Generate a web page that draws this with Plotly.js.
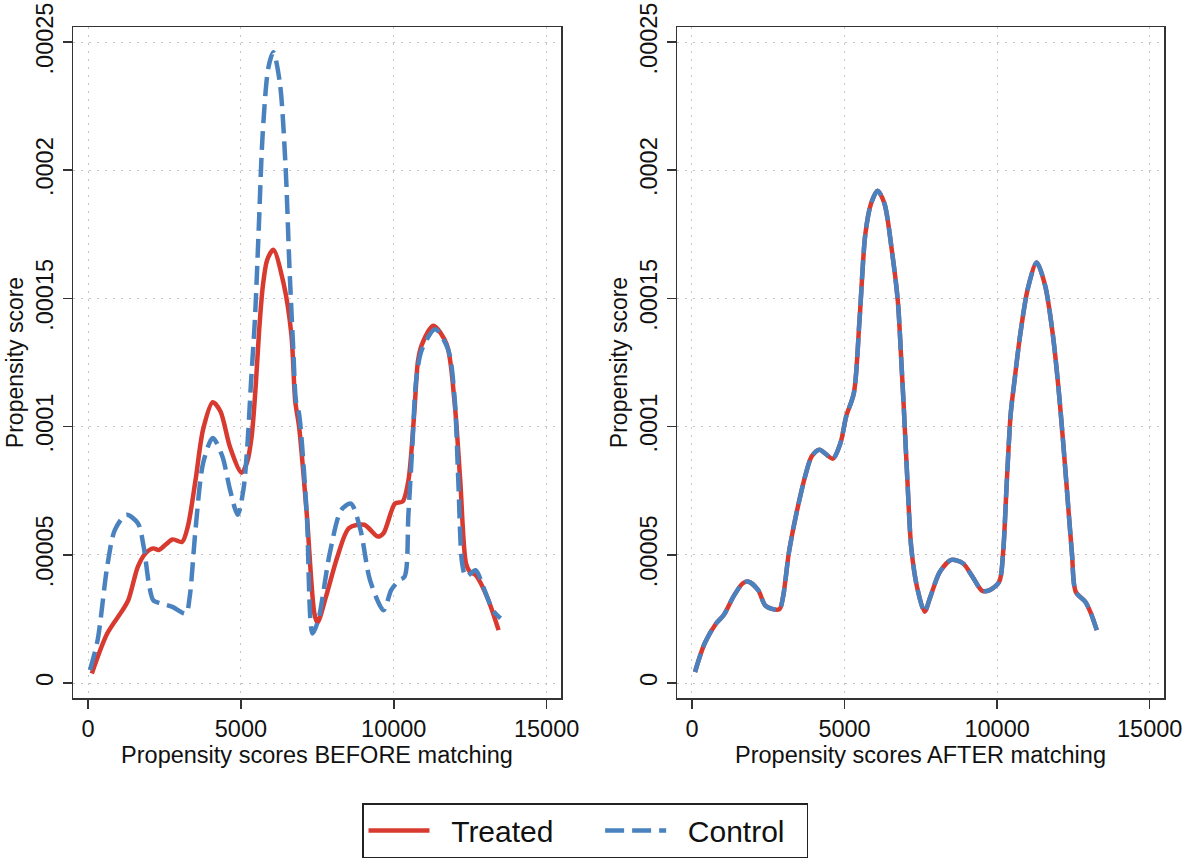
<!DOCTYPE html>
<html>
<head>
<meta charset="utf-8">
<script src="https://cdn.plot.ly/plotly-3.0.1.min.js"></script>
<style>html,body{margin:0;padding:0;background:#fff;}#chart{width:1192px;height:860px;}</style>
</head>
<body>
<div id="chart"></div>
<script>
// Values in units of 1e-5 (density)
const beforeTreatedX = [125, 628, 1130, 1318, 1632, 1883, 2134, 2322, 2762, 3075, 3264, 3515, 3766, 4080, 4330, 4644, 5021, 5200, 5350, 5480, 5600, 5720, 5860, 6062, 6400, 6651, 6777, 6903, 7154, 7405, 7505, 7782, 8159, 8535, 9037, 9477, 9665, 10041, 10292, 10480, 10669, 10794, 10919, 11296, 11734, 11985, 12174, 12362, 12488, 12676, 13052, 13429];
const beforeTreatedY = [0.37, 1.93, 2.84, 3.23, 4.54, 5.06, 5.25, 5.19, 5.6, 5.5, 6.1, 7.9, 9.9, 10.95, 10.6, 9.2, 8.2, 8.6, 9.6, 11.5, 13.8, 15.5, 16.5, 16.9, 15.56, 13.6, 11.0, 10.0, 6.6, 2.7, 2.35, 3.36, 4.93, 6.04, 6.17, 5.71, 5.84, 7.0, 7.08, 7.9, 10.5, 12.57, 13.2, 13.93, 13.2, 11.0, 7.9, 4.67, 4.34, 4.21, 3.36, 2.06];

const beforeControlX = [63, 314, 628, 879, 1255, 1632, 1820, 2008, 2134, 2385, 2761, 3201, 3326, 3515, 3766, 4080, 4393, 4644, 4895, 5083, 5209, 5335, 5460, 5587, 5712, 5899, 6062, 6275, 6463, 6589, 6714, 6802, 6903, 7154, 7342, 7530, 7907, 8284, 8598, 8912, 9226, 9665, 9916, 10167, 10355, 10480, 10606, 10731, 10919, 11358, 11780, 11985, 12111, 12237, 12362, 12676, 12927, 13241, 13492];
const beforeControlY = [0.5, 1.67, 4.54, 5.97, 6.56, 6.23, 5.32, 3.75, 3.23, 3.1, 2.97, 2.71, 3.36, 5.97, 8.58, 9.56, 8.84, 7.54, 6.56, 7.54, 9.2, 11.8, 14.2, 17.8, 21.4, 24.0, 24.6, 23.4, 20.1, 16.2, 13.0, 11.0, 10.5, 6.6, 1.93, 2.45, 5.06, 6.75, 7.0, 5.97, 4.0, 2.84, 3.62, 4.0, 4.15, 6.6, 9.2, 11.8, 13.0, 13.8, 13.0, 11.2, 7.9, 4.67, 4.15, 4.4, 3.75, 2.84, 2.52];

const afterX = [100, 414, 790, 1041, 1354, 1668, 1856, 2170, 2420, 2859, 2985, 3173, 3424, 3737, 3925, 4176, 4615, 4866, 5054, 5304, 5493, 5681, 5869, 6082, 6307, 6558, 6746, 6872, 6935, 7060, 7185, 7374, 7624, 7812, 8126, 8502, 8878, 9192, 9505, 9756, 10070, 10195, 10320, 10446, 10571, 10759, 11010, 11298, 11574, 11825, 12051, 12264, 12452, 12577, 12890, 13079, 13267];
const afterTreatedY = [0.43, 1.54, 2.32, 2.65, 3.36, 3.89, 3.95, 3.62, 3.0, 2.87, 3.36, 5.06, 6.62, 8.19, 8.84, 9.1, 8.75, 9.36, 10.4, 11.3, 14.2, 17.5, 18.7, 19.2, 18.7, 16.8, 14.9, 12.3, 10.9, 7.9, 5.3, 3.75, 2.78, 3.36, 4.34, 4.8, 4.67, 4.15, 3.6, 3.62, 3.95, 5.06, 7.9, 10.5, 11.8, 13.6, 15.4, 16.4, 15.5, 13.6, 11.0, 7.9, 5.06, 3.56, 3.17, 2.71, 2.06];
const afterControlY = afterTreatedY.slice();

const seriesNames = ["Treated", "Control"];
const xTickVals = [0, 5000, 10000, 15000];
const xTickText = ["0", "5000", "10000", "15000"];
const yTickVals = [0, 0.00005, 0.0001, 0.00015, 0.0002, 0.00025];
const yTickText = ["0", ".00005", ".0001", ".00015", ".0002", ".00025"];

const scale = v => v.map(d => d * 1e-5);
const RED = "#d83a30";
const BLUE = "#4a82bf";
const FONT = "Liberation Sans, Arial, Helvetica, sans-serif";
const NB = "\u00a0";

const traces = [
  {x: beforeTreatedX, y: scale(beforeTreatedY), name: NB + NB + seriesNames[0] + NB.repeat(5), type: "scatter", mode: "lines",
   line: {color: RED, width: 4.5, shape: "spline", smoothing: 0.8}, xaxis: "x", yaxis: "y"},
  {x: beforeControlX, y: scale(beforeControlY), name: NB + NB + seriesNames[1] + NB + NB, type: "scatter", mode: "lines",
   line: {color: BLUE, width: 4.5, dash: "19px,8px", shape: "spline", smoothing: 0.8}, xaxis: "x", yaxis: "y"},
  {x: afterX, y: scale(afterTreatedY), name: seriesNames[0], type: "scatter", mode: "lines", showlegend: false,
   line: {color: RED, width: 4.5, shape: "spline", smoothing: 0.8}, xaxis: "x2", yaxis: "y2"},
  {x: afterX, y: scale(afterControlY), name: seriesNames[1], type: "scatter", mode: "lines", showlegend: false,
   line: {color: BLUE, width: 4.5, dash: "19px,7px", shape: "spline", smoothing: 0.8}, xaxis: "x2", yaxis: "y2"}
];

const xRange = [-491, 15470];
const yRange = [-0.00000585, 0.00025585];

function xAxis(domain, title) {
  return {
    domain: domain, range: xRange, tickvals: xTickVals, ticktext: xTickText,
    ticks: "outside", ticklen: 9, tickwidth: 1.5, tickcolor: "#333",
    showline: true, mirror: true, linecolor: "#333", linewidth: 1.5,
    showgrid: true, gridcolor: "#c4c4c4", gridwidth: 1, griddash: "2px,6px",
    zeroline: false, tickfont: {family: FONT, size: 23.5, color: "#111"},
    title: {text: title, font: {family: FONT, size: 23.5, color: "#111"}, standoff: 1},
    fixedrange: true
  };
}
function yAxis(domain, anchor) {
  return {
    domain: domain, range: yRange, tickvals: yTickVals, ticktext: yTickText, anchor: anchor,
    ticks: "outside", ticklen: 9, tickwidth: 1.5, tickcolor: "#333", tickangle: -90,
    showline: true, mirror: true, linecolor: "#333", linewidth: 1.5,
    showgrid: true, gridcolor: "#c4c4c4", gridwidth: 1, griddash: "2px,6px",
    zeroline: false, tickfont: {family: FONT, size: 23.5, color: "#111"},
    title: {text: "Propensity score", font: {family: FONT, size: 23, color: "#111"}, standoff: 2},
    fixedrange: true
  };
}

const yDom = [1 - 698 / 860, 1 - 27 / 860];
const layout = {
  width: 1192, height: 860,
  margin: {l: 0, r: 0, t: 0, b: 0},
  paper_bgcolor: "#fff", plot_bgcolor: "#fff",
  font: {family: FONT, color: "#111"},
  xaxis: xAxis([73 / 1192, 561 / 1192], "Propensity scores BEFORE matching"),
  yaxis: yAxis(yDom, "x"),
  xaxis2: xAxis([677 / 1192, 1164 / 1192], "Propensity scores AFTER matching"),
  yaxis2: yAxis(yDom, "x2"),
  showlegend: true,
  legend: {
    orientation: "h", x: 585 / 1192, xanchor: "center", y: 1 - 803 / 860, yanchor: "top",
    bordercolor: "#222", borderwidth: 1.5, bgcolor: "#fff",
    font: {family: FONT, size: 30, color: "#111"}, itemwidth: 61,
    traceorder: "normal"
  }
};

Plotly.newPlot("chart", traces, layout, {displayModeBar: false, staticPlot: true});
</script>
</body>
</html>
